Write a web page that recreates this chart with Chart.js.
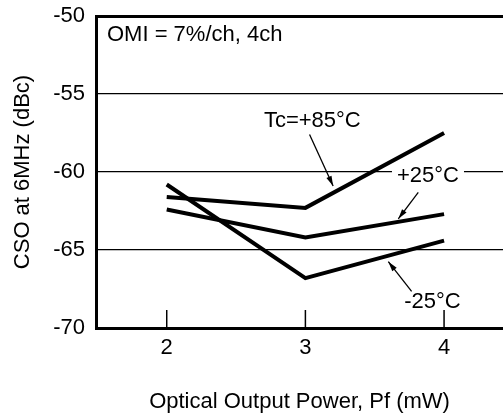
<!DOCTYPE html>
<html>
<head>
<meta charset="utf-8">
<script src="https://cdn.jsdelivr.net/npm/chart.js@4.4.1/dist/chart.umd.min.js"></script>
<style>
  body { margin: 0; background: #fff; }
</style>
</head>
<body>
<canvas id="chart" width="503" height="416"></canvas>
<script>
let powers = [2, 3, 4];
let cso85 = [-61.6, -62.3, -57.5];
let cso25 = [-62.4, -64.2, -62.7];
let csoM25 = [-60.8, -66.8, -64.4];
let xTicks = [2, 3, 4];
let yTicks = [-70, -65, -60, -55, -50];

let FONT = '"Liberation Sans", Arial, Helvetica, sans-serif';
let FSIZE = 22;

function toPoints(ys) {
  return powers.map((x, i) => ({x: x, y: ys[i]}));
}

// labels + arrows, given in data units
let notes = [
  {text: 'Tc=+85\u00b0C', x: 3.05, y: -56.7, from: [3.03, -57.6], to: [3.2, -60.9]},
  {text: '+25\u00b0C', x: 3.884, y: -60.25, box: true, from: [3.814, -61.3], to: [3.67, -63.0]},
  {text: '-25\u00b0C', x: 3.916, y: -68.33, from: [3.766, -67.65], to: [3.598, -65.75]}
];

function arrow(c, x1, y1, x2, y2) {
  c.beginPath();
  c.moveTo(x1, y1);
  c.lineTo(x2, y2);
  c.stroke();
  let a = Math.atan2(y2 - y1, x2 - x1);
  let len = 10, w = 2.8;
  let bx = x2 - len * Math.cos(a), by = y2 - len * Math.sin(a);
  c.beginPath();
  c.moveTo(x2, y2);
  c.lineTo(bx + w * Math.sin(a), by - w * Math.cos(a));
  c.lineTo(bx - w * Math.sin(a), by + w * Math.cos(a));
  c.closePath();
  c.fill();
}

let extras = {
  id: 'extras',
  afterDatasetsDraw(chart) {
    let c = chart.ctx;
    let xs = chart.scales.x, ys = chart.scales.y;
    let area = chart.chartArea;
    c.save();
    c.strokeStyle = '#000';
    c.fillStyle = '#000';
    // inner tick marks on the x axis
    c.lineWidth = 1.5;
    xTicks.forEach(v => {
      let px = xs.getPixelForValue(v);
      c.beginPath();
      c.moveTo(px, area.bottom);
      c.lineTo(px, area.bottom - 18);
      c.stroke();
    });
    c.font = FSIZE + 'px ' + FONT;
    c.textAlign = 'left';
    c.textBaseline = 'middle';
    c.fillText('OMI = 7%/ch, 4ch', area.left + 11, area.top + 19);
    c.textAlign = 'center';
    notes.forEach(n => {
      let px = xs.getPixelForValue(n.x), py = ys.getPixelForValue(n.y);
      if (n.box) {
        let w = c.measureText(n.text).width;
        c.fillStyle = '#fff';
        c.fillRect(px - w / 2 - 5, py - 12, w + 10, 24);
        c.fillStyle = '#000';
      }
      c.fillText(n.text, px, py);
      c.lineWidth = 1.3;
      arrow(c, xs.getPixelForValue(n.from[0]), ys.getPixelForValue(n.from[1]),
        xs.getPixelForValue(n.to[0]), ys.getPixelForValue(n.to[1]));
    });
    c.restore();
  }
};

let lineStyle = {
  borderColor: '#000',
  borderWidth: 4,
  pointRadius: 0,
  tension: 0,
  fill: false
};

let chart = new Chart(document.getElementById('chart'), {
  type: 'line',
  data: {
    datasets: [
      Object.assign({label: '+85', data: toPoints(cso85)}, lineStyle),
      Object.assign({label: '+25', data: toPoints(cso25)}, lineStyle),
      Object.assign({label: '-25', data: toPoints(csoM25)}, lineStyle)
    ]
  },
  options: {
    responsive: false,
    animation: false,
    layout: {
      padding: {top: 16, right: 0, left: 0, bottom: 0}
    },
    plugins: {
      legend: {display: false},
      tooltip: {enabled: false}
    },
    scales: {
      x: {
        type: 'linear',
        min: 1.49,
        max: 4.425,
        afterBuildTicks: (s) => { s.ticks = xTicks.map(v => ({value: v})); },
        afterFit: (s) => { s.height = 88; s.paddingLeft = 0; s.paddingRight = 0; },
        grid: {display: false, drawTicks: false},
        border: {display: true, color: '#000', width: 3},
        ticks: {
          color: '#000',
          padding: 7,
          maxRotation: 0,
          font: {family: FONT, size: FSIZE}
        },
        title: {
          display: true,
          text: 'Optical Output Power, Pf (mW)',
          color: '#000',
          padding: {top: 1, bottom: 1},
          font: {family: FONT, size: FSIZE}
        }
      },
      y: {
        min: -70,
        max: -50,
        afterBuildTicks: (s) => { s.ticks = yTicks.map(v => ({value: v})); },
        afterFit: (s) => { s.width = 96; s.paddingTop = 0; s.paddingBottom = 0; },
        grid: {
          color: '#000',
          drawTicks: false,
          lineWidth: (ctx) => (ctx.tick && (ctx.tick.value === -50 || ctx.tick.value === -70)) ? 3 : 1.2
        },
        border: {display: true, color: '#000', width: 3},
        ticks: {
          color: '#000',
          padding: 11,
          font: {family: FONT, size: FSIZE}
        },
        title: {
          display: true,
          text: 'CSO at 6MHz (dBc)',
          color: '#000',
          padding: {top: 10, bottom: 10},
          font: {family: FONT, size: FSIZE}
        }
      }
    }
  },
  plugins: [extras]
});
</script>
</body>
</html>
